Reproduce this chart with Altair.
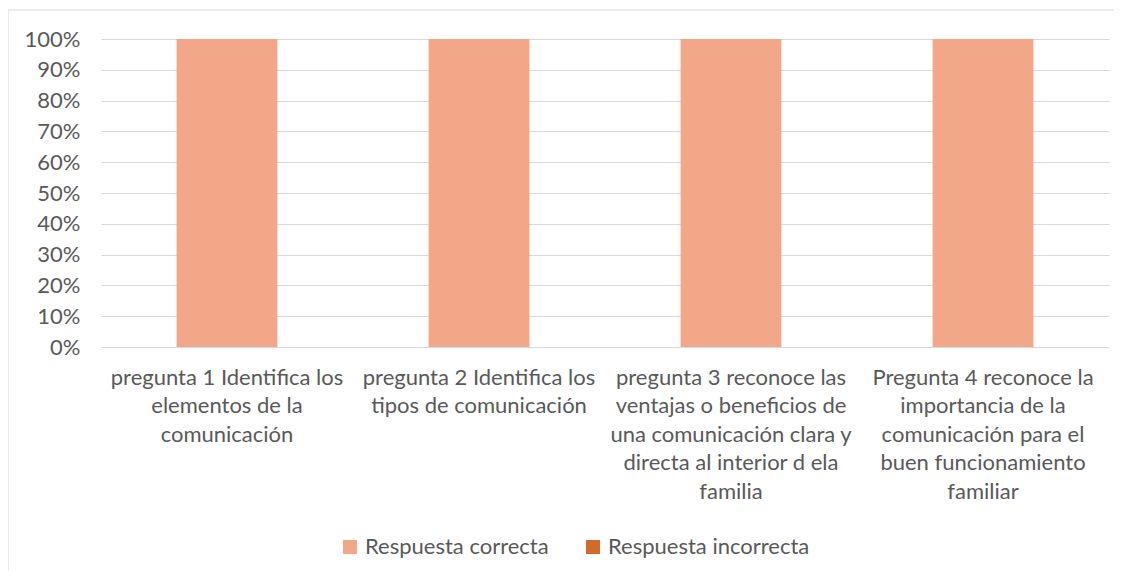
import altair as alt
import pandas as pd

categories = [
    "pregunta 1 Identifica los|elementos de la|comunicación",
    "pregunta 2 Identifica los|tipos de comunicación",
    "pregunta 3 reconoce las|ventajas o beneficios de|una comunicación clara y|directa al interior d ela|familia",
    "Pregunta 4 reconoce la|importancia de la|comunicación para el|buen funcionamiento|familiar",
]
series = ["Respuesta correcta", "Respuesta incorrecta"]
correct = [1.0, 1.0, 1.0, 1.0]
incorrect = [0.0, 0.0, 0.0, 0.0]
colors = ["#F1A788", "#D26A29"]

rows = []
for i, c in enumerate(categories):
    rows.append({"cat": c, "serie": series[0], "val": correct[i], "ord": 0})
    rows.append({"cat": c, "serie": series[1], "val": incorrect[i], "ord": 1})
df = pd.DataFrame(rows)

FONT = "Lato"
GRAY = "#595959"
FS = 22

bars = alt.Chart(df).mark_bar().encode(
    x=alt.X("cat:N", sort=categories, title=None,
            scale=alt.Scale(paddingInner=0.6, paddingOuter=0.3),
            axis=alt.Axis(labelAngle=0, labelExpr="split(datum.label, '|')",
                          labelFont=FONT, labelFontSize=FS, labelColor=GRAY,
                          labelLineHeight=28.5, labelPadding=20, ticks=False,
                          domain=False, labelLimit=300, labelBaseline="top")),
    y=alt.Y("val:Q", stack="zero", title=None,
            scale=alt.Scale(domain=[0, 1], nice=False),
            axis=alt.Axis(format=".0%", values=[i / 10 for i in range(11)],
                          labelFont=FONT, labelFontSize=FS, labelColor=GRAY,
                          labelPadding=21, ticks=False, domain=False,
                          grid=True, gridColor="#D9D9D9", gridWidth=1)),
    color=alt.Color("serie:N", sort=series,
                    scale=alt.Scale(domain=series, range=colors),
                    legend=alt.Legend(title=None, orient="none", direction="horizontal",
                                      legendX=238, legendY=497,
                                      symbolType="square", symbolSize=196,
                                      symbolStrokeWidth=0, symbolOpacity=1,
                                      labelOffset=4,
                                      labelFont=FONT, labelFontSize=FS, labelColor=GRAY,
                                      columnPadding=33, labelLimit=300)),
    order=alt.Order("ord:Q"),
)

border = alt.Chart(pd.DataFrame({"b": [0]})).mark_rect(
    fill=None, stroke="#D9D9D9", strokeWidth=1
).encode(
    x=alt.value(-93), x2=alt.value(1019), y=alt.value(-29), y2=alt.value(560)
)

chart = alt.layer(border, bars).properties(
    width=1008, height=308,
    autosize=alt.AutoSizeParams(type="none"),
    padding={"left": 93, "top": 31, "right": 5, "bottom": 224},
).configure_view(stroke=None)

chart.save("out.html", embed_options={"renderer": "svg", "actions": False})
